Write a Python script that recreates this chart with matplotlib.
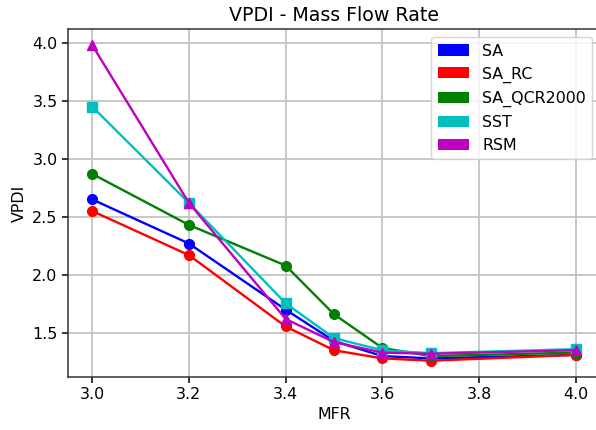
import matplotlib
matplotlib.use("Agg")
import matplotlib.pyplot as plt
from matplotlib.patches import Patch

mfr = [3.0, 3.2, 3.4, 3.5, 3.6, 3.7, 4.0]
sa = [2.65, 2.27, 1.70, 1.43, 1.30, 1.28, 1.31]
sa_rc = [2.55, 2.17, 1.555, 1.35, 1.28, 1.26, 1.31]
sa_qcr = [2.87, 2.43, 2.08, 1.66, 1.37, 1.30, 1.33]
sst = [3.45, 2.62, 1.755, 1.455, 1.35, 1.325, 1.36]
rsm = [3.98, 2.62, 1.62, 1.42, 1.33, 1.32, 1.35]

names = ["SA", "SA_RC", "SA_QCR2000", "SST", "RSM"]
series = [sa, sa_rc, sa_qcr, sst, rsm]
colors = ["b", "r", "g", "c", "m"]
markers = ["o", "o", "o", "s", "^"]

plt.rcParams["font.size"] = 11.4

fig = plt.figure(figsize=(5.96, 4.30), dpi=100)
ax = fig.add_axes([68/596, (430-376.5)/430, 532/596, (376.5-29.3)/430])

for vals, c, m in zip(series, colors, markers):
    ax.plot(mfr, vals, color=c, marker=m, markersize=7, linewidth=1.7)

ax.grid(True, color="#c4c4c4", linewidth=1.3)
ax.set_axisbelow(True)
ax.set_xticks([3.0, 3.2, 3.4, 3.6, 3.8, 4.0])
ax.set_yticks([1.5, 2.0, 2.5, 3.0, 3.5, 4.0])
ax.tick_params(width=1.1, length=4)
ax.set_title("VPDI - Mass Flow Rate", fontsize=13.7)
ax.set_xlabel("MFR")
ax.set_ylabel("VPDI")
for s in ax.spines.values():
    s.set_color("#333333")
    s.set_linewidth(1.1)

handles = [Patch(facecolor=c, label=n) for c, n in zip(colors, names)]
ax.legend(handles=handles, loc="upper right")

fig.savefig("out.png", dpi=100)
